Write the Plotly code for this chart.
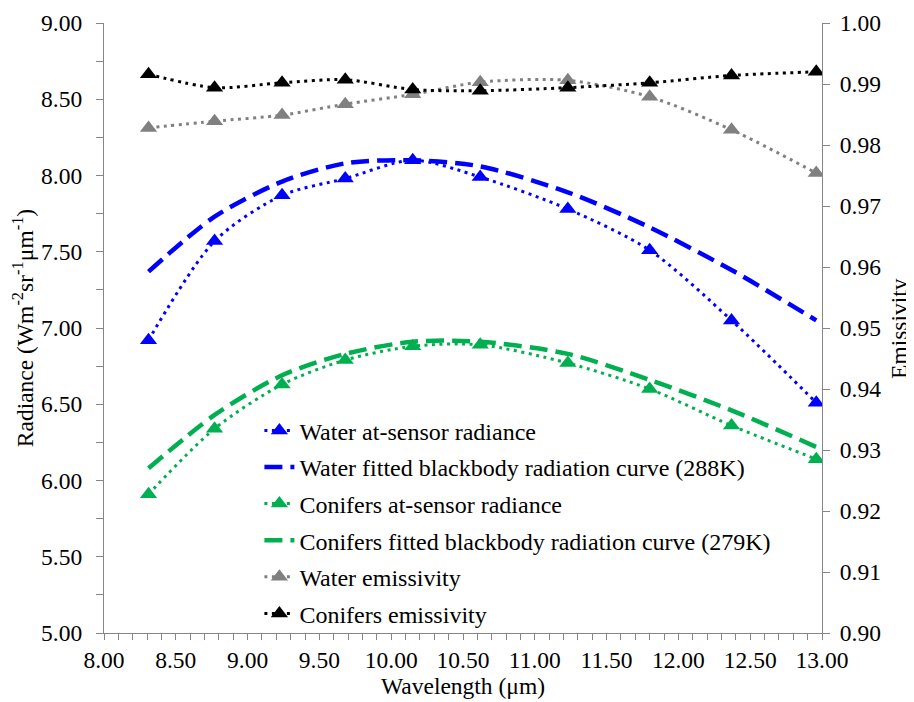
import plotly.graph_objects as go

wavelength = [8.31, 8.77, 9.24, 9.68, 10.15, 10.62, 11.23, 11.80, 12.37, 12.96]
water_rad = [6.92, 7.57, 7.87, 7.98, 8.10, 7.99, 7.78, 7.51, 7.05, 6.51]
water_fit = [7.37, 7.73, 7.96, 8.08, 8.10, 8.06, 7.89, 7.66, 7.38, 7.05]
conif_rad = [5.91, 6.34, 6.63, 6.79, 6.88, 6.89, 6.77, 6.60, 6.36, 6.14]
conif_fit = [6.08, 6.43, 6.69, 6.83, 6.91, 6.91, 6.83, 6.66, 6.46, 6.22]
water_emis = [0.9828, 0.9839, 0.9849, 0.9867, 0.9883, 0.9903, 0.9906, 0.9879, 0.9825, 0.9754]
conif_emis = [0.9916, 0.9894, 0.9902, 0.9907, 0.9891, 0.9889, 0.9894, 0.9902, 0.9914, 0.9920]

names = ["Water at-sensor radiance",
         "Water fitted blackbody radiation curve (288K)",
         "Conifers at-sensor radiance",
         "Conifers fitted blackbody radiation curve (279K)",
         "Water emissivity",
         "Conifers emissivity"]

BLUE = "#0000FF"
GREEN = "#00B050"
GRAY = "#808080"
BLACK = "#000000"
AX = "#868686"
FONT = "Liberation Serif, Times New Roman, serif"
FS = 23.5
LFS = 24
DOT = "3px,4.5px"
DASH = "18px,8px"

fig = go.Figure()

def add(y, name, color, dash, width, markers, rank, axis="y"):
    fig.add_trace(go.Scatter(
        x=wavelength, y=y, name=name, yaxis=axis, legendgroup="g%d" % rank,
        legendrank=rank,
        mode="lines+markers" if markers else "lines",
        line=dict(color=color, dash=dash, width=width, shape="spline", smoothing=0.8),
        marker=dict(symbol="triangle-up", size=15, color=color) if markers else None,
    ))

add(water_emis, names[4], GRAY, DOT, 3, True, 5, "y2")
add(conif_emis, names[5], BLACK, DOT, 3, True, 6, "y2")
add(water_fit, names[1], BLUE, DASH, 4.5, False, 2)
add(water_rad, names[0], BLUE, DOT, 3, True, 1)
add(conif_fit, names[3], GREEN, DASH, 4.5, False, 4)
add(conif_rad, names[2], GREEN, DOT, 3, True, 3)

# page has an 8px body margin; figure sized so the plot lands where the reference has it
W, H = 906, 694
L, R, T, B = 95.5, 92, 14.7, 69.3
pw = W - L - R
ph = H - T - B

fig.update_layout(
    width=W, height=H,
    margin=dict(l=L, r=R, t=T, b=B, autoexpand=False),
    paper_bgcolor="white", plot_bgcolor="white",
    font=dict(family=FONT, size=FS, color="black"),
    showlegend=True,
    legend=dict(
        x=(251 - L) / pw, y=1 - (400 - T) / ph, xanchor="left", yanchor="top",
        bgcolor="rgba(0,0,0,0)", font=dict(family=FONT, size=LFS, color="black"),
        traceorder="grouped", tracegroupgap=2.4, itemwidth=30,
    ),
    xaxis=dict(
        range=[8, 13], dtick=0.5, tick0=8, tickformat=".2f",
        showline=True, linecolor=AX, linewidth=1.3, mirror=False,
        ticks="outside", ticklen=6, tickcolor=AX, tickwidth=1.3,
        minor=dict(dtick=0.1, ticks="outside", ticklen=6, tickcolor=AX, tickwidth=1.3),
        showgrid=False, zeroline=False,
        title=dict(text="Wavelength (μm)", standoff=3, font=dict(family=FONT, size=FS)),
        tickfont=dict(family=FONT, size=FS),
    ),
    yaxis=dict(
        range=[5, 9], dtick=0.5, tickformat=".2f",
        showline=True, linecolor=AX, linewidth=1.3,
        ticks="outside", ticklen=7, tickcolor=AX, tickwidth=1.3,
        minor=dict(dtick=0.25, ticks="outside", ticklen=7, tickcolor=AX, tickwidth=1.3),
        showgrid=False, zeroline=False,
        title=dict(text="Radiance (Wm<sup>-2</sup>sr<sup>-1</sup>μm<sup>-1</sup>)", standoff=9,
                   font=dict(family=FONT, size=FS)),
        tickfont=dict(family=FONT, size=FS), ticklabelstandoff=9,
    ),
    yaxis2=dict(
        range=[0.90, 1.00], dtick=0.01, tickformat=".2f", overlaying="y", side="right",
        showline=True, linecolor=AX, linewidth=1.3,
        ticks="outside", ticklen=7, tickcolor=AX, tickwidth=1.3,
        showgrid=False, zeroline=False,
        tickfont=dict(family=FONT, size=FS), ticklabelstandoff=5,
    ),
    annotations=[dict(
        text="Emissivity", textangle=-90, showarrow=False,
        xref="paper", yref="paper", x=1 + (891 - (W - R)) / pw, y=0.5,
        xanchor="center", yanchor="middle",
        font=dict(family=FONT, size=FS, color="black"),
    )],
)

fig.write_html("out.html")
